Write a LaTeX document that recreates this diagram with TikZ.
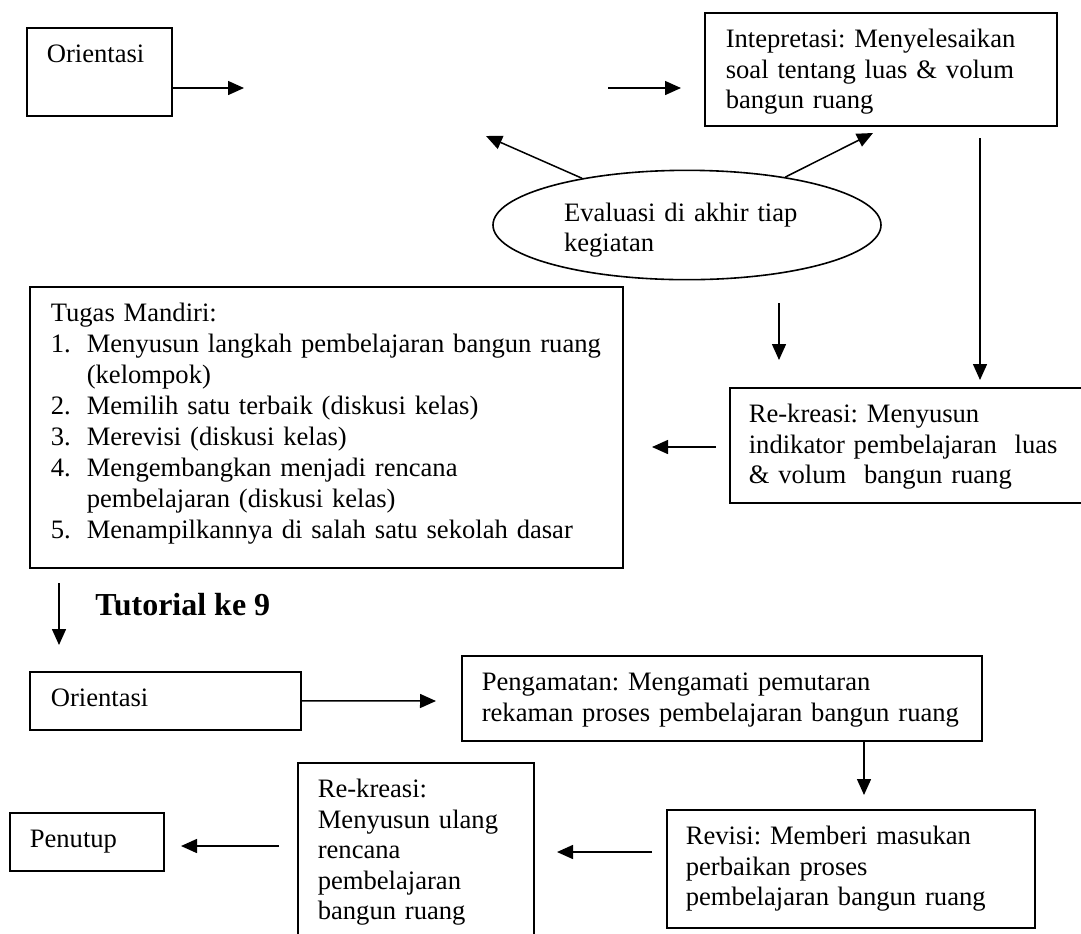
\documentclass[tikz,border=0pt]{standalone}
\usepackage{fontspec}
\setmainfont{Liberation Serif}
\usetikzlibrary{arrows.meta,shapes.geometric}
\frenchspacing

\tikzset{
  box/.style={draw, line width=0.8pt, anchor=north west, align=left, inner ysep=0pt, text height=17.5pt},
  arr/.style={line width=0.75pt, -{Triangle[length=8pt,width=7pt]}},
  body/.style={font=\fontsize{13.3}{15.25}\selectfont}
}
\newcommand{\itm}[2]{\makebox[18pt][l]{#1}#2}

\begin{document}
\begin{tikzpicture}[x=0.5pt,y=-0.5pt,body]
  \clip (0,0) rectangle (1081,933);
  % boxes
  \node[box, inner xsep=10pt, text width=52.5pt, text depth=26.5pt] (orientA) at (26,27) {Orientasi};
  \node[box, inner xsep=10.5pt, text width=155pt, text depth=39pt] (interp) at (704,12) {Intepretasi: Menyelesaikan\\soal tentang luas \& volum\\bangun ruang};
  \node[draw, ellipse, line width=0.8pt, minimum width=194pt, minimum height=52pt, align=left, text width=123pt, text height=14pt, text depth=18pt] (eval) at (687,225) {Evaluasi di akhir tiap\\kegiatan};
  \node[box, inner xsep=10.5pt, text width=275.5pt, text depth=123pt, font=\fontsize{13.3}{15.5}\selectfont] (tasks) at (29,286) {Tugas Mandiri:\\
    \itm{1.}{Menyusun langkah pembelajaran bangun ruang}\\
    \hspace*{18pt}(kelompok)\\
    \itm{2.}{Memilih satu terbaik (diskusi kelas)}\\
    \itm{3.}{Merevisi (diskusi kelas)}\\
    \itm{4.}{Mengembangkan menjadi rencana}\\
    \hspace*{18pt}pembelajaran (diskusi kelas)\\
    \itm{5.}{Menampilkannya di salah satu sekolah dasar}};
  \node[box, inner xsep=9.5pt, text width=166.5pt, text depth=40pt] (rekreasiA) at (729,387) {Re-kreasi: Menyusun\\indikator pembelajaran\ \ luas\\\&\ volum\ \ bangun ruang};
  \node[font=\fontsize{16}{19}\selectfont\bfseries, anchor=base west, inner sep=0pt] (tut) at (95,615) {Tutorial ke 9};
  \node[box, inner xsep=10.5pt, text width=114.5pt, text depth=11.5pt] (orientB) at (29,671) {Orientasi};
  \node[box, inner xsep=10pt, text width=240pt, text depth=25pt] (observe) at (461,655) {Pengamatan: Mengamati pemutaran\\rekaman proses pembelajaran bangun ruang};
  \node[box, inner xsep=9.5pt, text width=165pt, text depth=41.5pt] (revise) at (666,809) {Revisi: Memberi masukan\\perbaikan proses\\pembelajaran bangun ruang};
  \node[box, inner xsep=10pt, text width=98pt, text depth=72.5pt] (rekreasiB) at (297,762) {Re-kreasi:\\Menyusun ulang\\rencana\\pembelajaran\\bangun ruang};
  \node[box, inner xsep=10pt, text width=57pt, text depth=11.5pt] (close) at (9,812) {Penutup};
  % free arrow ends
  \coordinate (gapL) at (244,88);
  \coordinate (gapR) at (608,88);
  \coordinate (interpIn) at (681,88);
  \coordinate (evalTipL) at (486,136);
  \coordinate (evalTipR) at (873,133);
  \coordinate (dropTop) at (980,138);
  \coordinate (dropEnd) at (980,380);
  \coordinate (midTop) at (779,303);
  \coordinate (midEnd) at (779,360);
  \coordinate (backStart) at (716,447);
  \coordinate (backEnd) at (652,447);
  \coordinate (tutTop) at (59,583);
  \coordinate (tutEnd) at (59,645);
  \coordinate (observeIn) at (436,701);
  \coordinate (reviseTip) at (864,795);
  \coordinate (revBackStart) at (652,852);
  \coordinate (revBackEnd) at (557,852);
  \coordinate (closeStart) at (279,846);
  \coordinate (closeEnd) at (181,846);
  % arrows
  \draw[arr] (orientA.east |- gapL) -- (gapL);
  \draw[arr] (gapR) -- (interpIn);
  \draw[arr] (eval.156) -- (evalTipL);
  \draw[arr] (eval.26) -- (evalTipR);
  \draw[arr] (dropTop) -- (dropEnd);
  \draw[arr] (midTop) -- (midEnd);
  \draw[arr] (backStart) -- (backEnd);
  \draw[arr] (tutTop) -- (tutEnd);
  \draw[arr] (orientB.east) -- (observeIn);
  \draw[arr] (observe.south -| reviseTip) -- (reviseTip);
  \draw[arr] (revBackStart) -- (revBackEnd);
  \draw[arr] (closeStart) -- (closeEnd);
\end{tikzpicture}
\end{document}
